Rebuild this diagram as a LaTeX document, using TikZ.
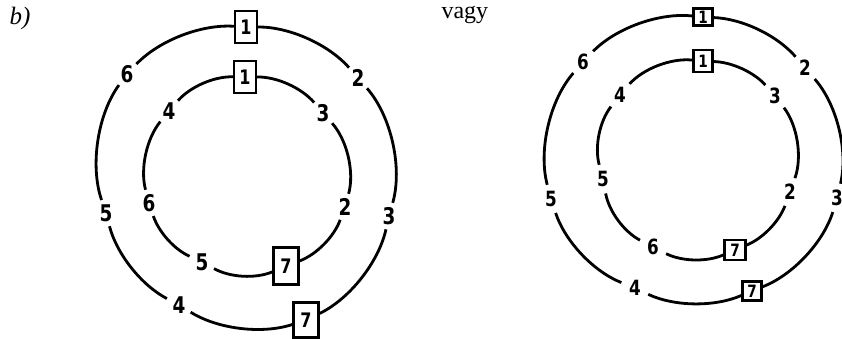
\documentclass[tikz,border=0pt]{standalone}
\usepackage{fontspec}
\setmainfont{Liberation Serif}
\newfontfamily\digfont[FakeStretch=0.8]{DejaVu Sans}
\begin{document}
\begin{tikzpicture}[x=1pt,y=-1pt,
  ring/.style={line width=2.8pt, looseness=0.8},
  labL/.style={circle, inner sep=0pt, minimum size=27pt, font=\digfont\bfseries\fontsize{23}{25}\selectfont},
  labR/.style={circle, inner sep=0pt, minimum size=29pt, font=\digfont\bfseries\fontsize{21}{23}\selectfont},
  boxL/.style={draw, rectangle, line width=2.4pt, inner sep=0pt, font=\digfont\bfseries\fontsize{20}{22}\selectfont},
  boxR/.style={draw, rectangle, line width=2.2pt, inner sep=0pt, font=\digfont\bfseries\fontsize{17}{19}\selectfont}]
\useasboundingbox (0,0) rectangle (842,339);

\node[anchor=base west, font=\itshape\fontsize{25}{27}\selectfont] (tb) at (6,25) {b)};
\node[anchor=base west, font=\fontsize{24}{26}\selectfont] (tv) at (438,18.5) {vagy};

% left, outer ring
\node[boxL, minimum width=22pt, minimum height=32pt] (Lo1) at (246,27) {1};
\node[labL] (Lo2) at (358,78) {2};
\node[labL] (Lo3) at (389,216) {3};
\node[boxL, minimum width=25pt, minimum height=35pt] (Lo7) at (306,320) {7};
\node[labL] (Lo4) at (179,305) {4};
\node[labL] (Lo5) at (106,213) {5};
\node[labL] (Lo6) at (127,74) {6};
\draw[ring] (Lo1) to[bend left=24.5] (Lo2);
\draw[ring] (Lo2) to[bend left=28.5] (Lo3);
\draw[ring] (Lo3) to[bend left=25.75] (Lo7);
\draw[ring] (Lo7) to[bend left=25] (Lo4);
\draw[ring] (Lo4) to[bend left=23.75] (Lo5);
\draw[ring] (Lo5) to[bend left=27.5] (Lo6);
\draw[ring] (Lo6) to[bend left=25] (Lo1);

% left, inner ring
\node[boxL, minimum width=22pt, minimum height=32pt] (Li1) at (245,77) {1};
\node[labL] (Li3) at (323,113) {3};
\node[labL] (Li2) at (345,207) {2};
\node[boxL, minimum width=25pt, minimum height=37pt] (Li7) at (286,266) {7};
\node[labL] (Li5) at (202,262) {5};
\node[labL] (Li6) at (149,203) {6};
\node[labL] (Li4) at (169,111) {4};
\draw[ring] (Li1) to[bend left=25] (Li3);
\draw[ring] (Li3) to[bend left=28.5] (Li2);
\draw[ring] (Li2) to[bend left=24.5] (Li7);
\draw[ring] (Li7) to[bend left=26] (Li5);
\draw[ring] (Li5) to[bend left=23.5] (Li6);
\draw[ring] (Li6) to[bend left=27] (Li4);
\draw[ring] (Li4) to[bend left=25] (Li1);

% right, outer ring
\node[boxR, minimum width=19pt, minimum height=17pt] (Ro1) at (703,17) {1};
\node[labR] (Ro2) at (805,68) {2};
\node[labR] (Ro3) at (837,198) {3};
\node[boxR, minimum width=19pt, minimum height=19pt] (Ro7) at (752,291) {7};
\node[labR] (Ro4) at (635,288) {4};
\node[labR] (Ro5) at (551,199) {5};
\node[labR] (Ro6) at (583,62) {6};
\draw[ring] (Ro1) to[bend left=23.5] (Ro2);
\draw[ring] (Ro2) to[bend left=27.5] (Ro3);
\draw[ring] (Ro3) to[bend left=25.75] (Ro7);
\draw[ring] (Ro7) to[bend left=24.25] (Ro4);
\draw[ring] (Ro4) to[bend left=25] (Ro5);
\draw[ring] (Ro5) to[bend left=28] (Ro6);
\draw[ring] (Ro6) to[bend left=26] (Ro1);

% right, inner ring
\node[boxR, minimum width=19pt, minimum height=22pt] (Ri1) at (703,61) {1};
\node[labR] (Ri3) at (775,96) {3};
\node[labR] (Ri2) at (790,192) {2};
\node[boxR, minimum width=21pt, minimum height=20pt] (Ri7) at (735,250) {7};
\node[labR] (Ri6) at (653,247) {6};
\node[labR] (Ri5) at (603,179) {5};
\node[labR] (Ri4) at (620,95) {4};
\draw[ring] (Ri1) to[bend left=23] (Ri3);
\draw[ring] (Ri3) to[bend left=28.5] (Ri2);
\draw[ring] (Ri2) to[bend left=23.5] (Ri7);
\draw[ring] (Ri7) to[bend left=25] (Ri6);
\draw[ring] (Ri6) to[bend left=26] (Ri5);
\draw[ring] (Ri5) to[bend left=26.5] (Ri4);
\draw[ring] (Ri4) to[bend left=27] (Ri1);
\end{tikzpicture}
\end{document}
